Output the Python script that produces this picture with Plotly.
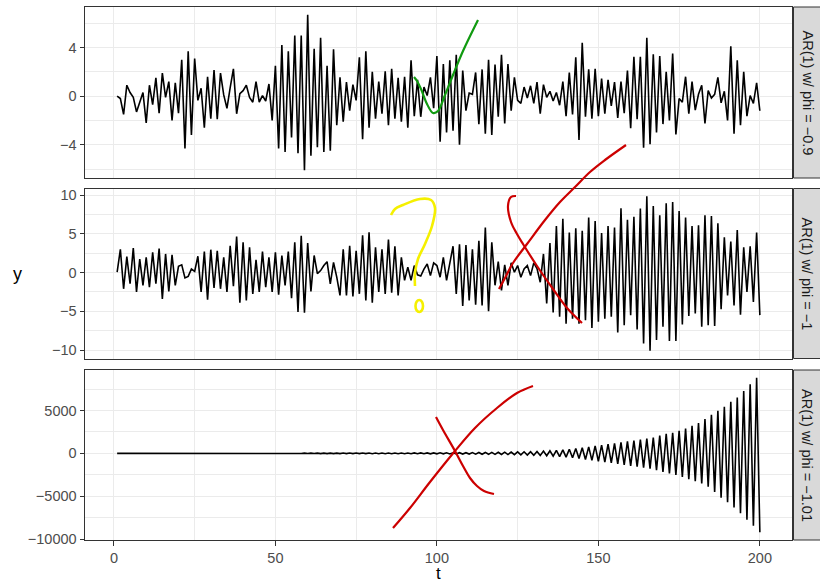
import plotly.graph_objects as go

# time index
t = list(range(1, 201))

# AR(1) with phi = -0.9
phi_m09 = [
    0, -0.2, -1.5, 0.9, 0.3, -0.1, -1.3, -0.5, 0.3, -2.2,
    0.9, -0.7, 1.5, -1.4, 1.9, -0.1, 1.2, -2.0, 1.1, -1.4,
    3.0, -4.3, 3.7, -3.2, 3.1, -0.35, 0.65, -2.6, 1.6, -1.85,
    2.15, -1.9, 1.9, 0.1, -1.0, 0.7, 2.25, -1.45, 0.2, 0.45,
    0.9, -0.1, -0.5, 1.2, -0.5, 0.05, -0.4, 1.0, -2.0, 2.5,
    -4.3, 4.2, -4.6, 3.7, -3.4, 5.0, -4.7, 5.0, -6.1, 6.7,
    -4.9, 3.9, -4.2, 4.8, -4.6, 2.5, -4.5, 3.85, -2.4, 1.55,
    -2.1, 1.15, -1.2, 0.95, -0.35, 3.2, -3.55, 3.7, -2.6, 2.0,
    -1.85, 1.2, -1.45, 2.05, -2.4, 2.25, -1.85, 1.5, -2.1, 1.6,
    -2.6, 2.95, -1.65, 1.35, -1.7, 0.75, 0.05, 1.55, -1.0, 3.3,
    -3.75, 2.65, -3.0, 2.95, -2.85, 3.4, -4.0, 2.1, -1.2, 0.25,
    0.15, 1.95, -2.3, 2.2, -3.1, 3.0, -3.2, 2.6, -1.7, 3.4,
    -2.25, 2.65, -1.2, 1.55, -0.35, -0.6, 0.75, -0.15, 0.85, -0.6,
    1.15, -1.45, 0.95, -0.1, 0.4, -0.4, 0.3, -0.75, 1.2, -1.65,
    1.95, -1.5, 3.2, -3.6, 4.4, -1.7, 2.2, -1.85, 2.25, -1.65,
    1.45, -1.45, 1.35, -0.8, 1.15, -1.8, 1.2, -1.4, 2.1, -2.65,
    3.25, -1.9, 3.25, -4.25, 4.8, -3.95, 3.45, -3.0, 3.3, -2.3,
    2.0, -2.0, 3.5, -3.15, -0.2, -0.5, 1.6, -1.45, 1.2, -1.15,
    0.15, 0.9, -2.25, 0.45, -0.15, 0.15, 1.55, -0.55, 0.4, -2.0,
    4.1, -3.1, 2.95, -2.4, 2.0, -1.65, 0.05, -0.6, 1.1, -1.2,
]

# AR(1) with phi = -1
phi_m1 = [
    0.05, 3.0, -2.1, 2.05, -1.45, 3.15, -2.5, 1.75, -1.65, 1.95,
    -1.9, 2.6, -1.45, 3.1, -3.4, 2.4, -2.45, 2.3, -1.65, 0.8,
    1.0, -0.7, -0.5, 0.45, 0.15, 2.1, -2.5, 2.7, -3.5, 2.95,
    -2.0, 2.8, -2.1, 1.95, -2.5, 3.45, -1.75, 4.65, -3.9, 3.9,
    -3.6, 3.25, -2.75, 1.65, -2.5, 2.7, -1.9, 1.95, -2.5, 2.6,
    -2.85, 2.2, -1.65, 2.7, -3.3, 3.9, -5.1, 4.75, -5.2, 3.8,
    -2.45, 2.2, -0.15, 0.25, 0.9, 1.4, -1.45, 1.3, -0.6, -2.95,
    3.0, -2.95, 3.45, -3.1, 2.8, -2.75, 4.8, -3.6, 5.2, -3.9,
    3.25, -2.5, 3.0, -2.75, 4.25, -2.6, 3.4, -2.95, 1.95, -1.0,
    0.7, -1.0, 0.9, -0.3, -0.45, 0.45, 1.1, -0.4, 1.25, 0.9,
    -0.6, 1.95, -1.0, 1.1, 3.4, -2.75, 3.65, -4.3, 3.55, -3.6,
    3.0, -4.15, 4.1, -4.25, 5.8, -5.0, 3.9, -1.65, 1.4, -2.3,
    1.0, -1.65, 1.25, 0.05, 0.9, -0.6, 0.45, 0.9, -0.4, 1.25,
    0.5, -1.25, 2.4, -4.0, 3.8, -5.15, 6.0, -5.7, 6.95, -6.6,
    5.15, -5.95, 5.7, -6.6, 5.4, -6.15, 7.1, -7.15, 6.65, -6.35,
    5.1, -5.95, 6.0, -5.7, 5.8, -7.75, 8.3, -6.8, 6.8, -5.5,
    7.2, -7.35, 8.25, -9.15, 9.85, -10.1, 8.6, -8.7, 7.4, -7.0,
    8.95, -8.85, 9.1, -8.85, 7.95, -6.7, 7.1, -5.6, 6.0, -5.3,
    6.1, -7.0, 7.4, -6.8, 7.3, -6.9, 6.35, -4.75, 4.55, -2.95,
    4.0, -4.25, 5.5, -5.45, 3.25, -2.5, 3.4, -3.8, 5.15, -5.5,
]

# AR(1) with phi = -1.01
phi_m101 = [
    0, -1, 2, -2, 1, -3, 2, -2, 4, -3,
    3, -5, 4, -4, 6, -5, 5, -7, 6, -6,
    8, -7, 7, -9, 8, -8, 10, -9, 9, -11,
    10, -10, 12, -11, 12, -13, 12, -13, 14, -13,
    14, -15, 15, -15, 16, -16, 16, -17, 17, -17,
    18, -19, 19, -20, 21, -21, 22, -23, 23, -24,
    25, -25, 26, -27, 27, -28, 29, -29, 30, -31,
    31, -32, 33, -33, 34, -35, 35, -36, 37, -37,
    38, -39, 40, -40, 41, -42, 43, -44, 45, -45,
    46, -47, 48, -49, 50, -51, 52, -53, 54, -56,
    58, -61, 63, -66, 69, -72, 75, -79, 82, -86,
    90, -94, 98, -103, 107, -112, 117, -123, 128, -134,
    140, -147, 153, -160, 168, -175, 183, -192, 200, -212,
    225, -240, 260, -275, 295, -320, 345, -375, 405, -440,
    475, -515, 560, -610, 660, -710, 760, -815, 865, -920,
    965, -1020, 1070, -1120, 1175, -1230, 1290, -1345, 1400, -1450,
    1500, -1550, 1610, -1670, 1730, -1790, 1850, -1950, 2060, -2160,
    2270, -2330, 2400, -2520, 2640, -2760, 2890, -3000, 3200, -3250,
    3540, -3500, 4000, -3900, 4500, -4500, 4970, -5160, 5430, -5700,
    6000, -6310, 6500, -6970, 7280, -7740, 8050, -8430, 8815, -9200,
]

series = [phi_m09, phi_m1, phi_m101]
strip_labels = ["AR(1) w/ phi = \u22120.9", "AR(1) w/ phi = \u22121", "AR(1) w/ phi = \u22121.01"]

x_ticks = [0, 50, 100, 150, 200]
x_minor = [25, 75, 125, 175]
y_ticks = [[-4, 0, 4], [-10, -5, 0, 5, 10], [-10000, -5000, 0, 5000]]
y_minor = [[-6, -2, 2, 6], [-7.5, -2.5, 2.5, 7.5], [-7500, -2500, 2500, 7500]]

# hand-drawn marker strokes, in page pixel coordinates (x right, y down)
green_stroke = [(414, 77), (417, 81), (421, 89), (427, 104), (433, 113), (438, 111),
                (445, 95), (453, 75), (463, 51), (478, 20)]
yellow_stroke = [(391, 215), (395, 209), (403, 205), (420, 199), (431, 200), (435, 208),
                 (432, 226), (425, 244), (418, 259), (415, 273), (415, 286)]
red_strokes = [
    [(499, 289), (505, 278), (513, 263), (527, 244), (545, 220), (560, 202),
     (575, 187), (590, 172), (605, 160), (626, 145)],
    [(516, 196), (511, 197), (508, 206), (511, 222), (517, 234), (523, 244),
     (537, 266), (553, 289), (567, 308), (582, 323)],
    [(393, 528), (410, 508), (430, 482), (455, 451), (475, 428), (497, 408),
     (517, 393), (533, 386)],
    [(436, 417), (443, 430), (455, 451), (463, 466), (470, 478), (477, 486),
     (484, 491), (494, 494)],
]

W, H = 820, 582
ML, MR, MT, MB = 85, 28, 7, 42
PW, PH = W - ML - MR, H - MT - MB
panel_px = [(7, 178), (188.5, 358.5), (370, 540)]   # top, bottom of each panel


def pdom(top, bottom):
    return [(H - MB - bottom) / PH, (H - MB - top) / PH]


def fmt_tick(v):
    return f"{v:g}".replace("-", "\u2212")


FONT = "Liberation Sans, Arial, Helvetica, sans-serif"
TICK_FONT = dict(family=FONT, size=14.5, color="#4D4D4D")
GRID = "#EBEBEB"
BORDER = "#333333"

fig = go.Figure()
layout = dict(
    width=W, height=H,
    margin=dict(l=ML, r=MR, t=MT, b=MB, pad=0),
    paper_bgcolor="white", plot_bgcolor="rgba(0,0,0,0)",
    showlegend=False,
    font=dict(family=FONT),
)

shapes = []
annotations = []
for i, (vals, label) in enumerate(zip(series, strip_labels)):
    n = i + 1
    xa = "x" if n == 1 else f"x{n}"
    ya = "y" if n == 1 else f"y{n}"
    fig.add_trace(go.Scatter(x=t, y=vals, mode="lines", xaxis=xa, yaxis=ya,
                             line=dict(color="black", width=1.6), hoverinfo="skip"))
    lo, hi = min(vals), max(vals)
    pad = 0.05 * (hi - lo)
    dom = pdom(*panel_px[i])
    bottom = n == 3
    layout[f"xaxis{'' if n == 1 else n}"] = dict(
        domain=[0, 1], anchor=ya, range=[-8.95, 209.95],
        tickvals=x_ticks, ticktext=[fmt_tick(v) for v in x_ticks],
        ticks="outside" if bottom else "", ticklen=4.5, tickwidth=1,
        tickcolor=BORDER, showticklabels=bottom, tickfont=TICK_FONT,
        showgrid=True, gridcolor=GRID, gridwidth=1.1, zeroline=False,
        minor=dict(tickvals=x_minor, showgrid=True, gridcolor=GRID, gridwidth=0.6, ticks=""),
        showline=True, mirror=True, linecolor=BORDER, linewidth=1,
        matches=None if n == 1 else "x",
    )
    layout[f"yaxis{'' if n == 1 else n}"] = dict(
        domain=dom, anchor=xa, range=[lo - pad, hi + pad],
        tickvals=y_ticks[i], ticktext=[fmt_tick(v) for v in y_ticks[i]],
        ticks="outside", ticklen=4.5, tickwidth=1,
        tickcolor=BORDER, tickfont=TICK_FONT,
        showgrid=True, gridcolor=GRID, gridwidth=1.1, zeroline=False,
        minor=dict(tickvals=y_minor[i], showgrid=True, gridcolor=GRID, gridwidth=0.6, ticks=""),
        showline=True, mirror=True, linecolor=BORDER, linewidth=1,
    )
    # facet strip on the right
    shapes.append(dict(type="rect", xref="paper", yref="paper",
                       x0=1 + 1.5 / PW, x1=1 + 30 / PW, y0=dom[0], y1=dom[1],
                       fillcolor="#D9D9D9", line=dict(color=BORDER, width=1), layer="above"))
    annotations.append(dict(text=label, xref="paper", yref="paper",
                            x=1 + 15 / PW, y=(dom[0] + dom[1]) / 2, showarrow=False,
                            textangle=90, font=dict(family=FONT, size=14.5, color="#1A1A1A"),
                            xanchor="center", yanchor="middle"))

# overlay axis in pixel units for the marker strokes
layout["xaxis4"] = dict(domain=[0, 1], anchor="y4", range=[ML, W - MR], visible=False,
                        fixedrange=True)
layout["yaxis4"] = dict(domain=[0, 1], anchor="x4", range=[H - MB, MT], visible=False,
                        fixedrange=True)


def add_stroke(pts, color, width=2.2):
    fig.add_trace(go.Scatter(x=[p[0] for p in pts], y=[p[1] for p in pts], mode="lines",
                             xaxis="x4", yaxis="y4", hoverinfo="skip",
                             line=dict(color=color, width=width, shape="spline", smoothing=1.0)))


add_stroke(green_stroke, "#109A10")
add_stroke(yellow_stroke, "#F5F000", 2.6)
for s in red_strokes:
    add_stroke(s, "#CC0000")
shapes.append(dict(type="circle", xref="x4", yref="y4", x0=415.5, x1=423, y0=300, y1=312,
                   line=dict(color="#F5F000", width=2.6)))

annotations.append(dict(text="y", xref="paper", yref="paper",
                        x=(17 - ML) / PW, y=0.5, showarrow=False,
                        font=dict(family=FONT, size=18, color="black"),
                        xanchor="center", yanchor="middle"))
annotations.append(dict(text="t", xref="paper", yref="paper",
                        x=(438.5 - ML) / PW, y=(H - MB - 573) / PH, showarrow=False,
                        font=dict(family=FONT, size=17, color="black"),
                        xanchor="center", yanchor="middle"))

layout["shapes"] = shapes
layout["annotations"] = annotations
fig.update_layout(**layout)

fig.write_html("out.html")
